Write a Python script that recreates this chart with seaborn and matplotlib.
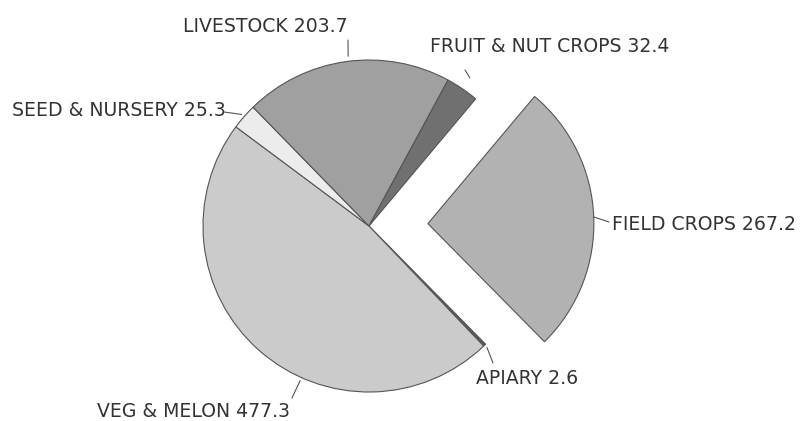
import numpy as np
import matplotlib
matplotlib.use("Agg")
import matplotlib.pyplot as plt
import seaborn as sns

sns.set_theme(style="white")
plt.rcParams['font.family'] = ['DejaVu Sans']

categories = ["FIELD CROPS", "APIARY", "VEG & MELON", "SEED & NURSERY", "LIVESTOCK", "FRUIT & NUT CROPS"]
values = [267.2, 2.6, 477.3, 25.3, 203.7, 32.4]
colors = ["#b2b2b2", "#5a5a5a", "#cbcbcb", "#ececec", "#a0a0a0", "#707070"]
explode = [0.355, 0, 0, 0, 0, 0]

W, H = 800, 421
cx, cy, R = 369, 226, 166  # pixel layout of pie

fig = plt.figure(figsize=(W / 100, H / 100), dpi=100)
ax = fig.add_axes([0, 0, 1, 1])
wedges, _ = ax.pie(values, colors=colors, explode=explode, startangle=50,
                   counterclock=False, radius=1,
                   wedgeprops=dict(edgecolor="#555555", linewidth=0.8))
ax.set_xlim(-cx / R, (W - cx) / R)
ax.set_ylim(-(H - cy) / R, cy / R)
ax.set_aspect("auto")
ax.axis("off")

def px(x, y):
    return ((x - cx) / R, (cy - y) / R)

# label layout: (text x px, text y px, ha, leader anchor angle override or None, leader radius factor)
layout = {
    "FIELD CROPS": (612, 224, "left", None, 1.0),
    "APIARY": (476, 379, "left", None, 1.02),
    "VEG & MELON": (97, 411, "left", -114, 1.02),
    "SEED & NURSERY": (12, 110, "left", None, 1.02),
    "LIVESTOCK": (183, 27, "left", 97, 1.03),
    "FRUIT & NUT CROPS": (430, 46, "left", None, 1.08),
}
leader_end = {
    "FIELD CROPS": (609, 222),
    "APIARY": (493, 363),
    "VEG & MELON": (292, 398),
    "SEED & NURSERY": (224, 112),
    "LIVESTOCK": (348, 40),
    "FRUIT & NUT CROPS": (465, 70),
}

for w, cat, val in zip(wedges, categories, values):
    tx, ty, ha, ang, rf = layout[cat]
    c = w.center
    a = (w.theta1 + w.theta2) / 2 if ang is None else ang
    sx = c[0] + rf * np.cos(np.deg2rad(a))
    sy = c[1] + rf * np.sin(np.deg2rad(a))
    ex, ey = px(*leader_end[cat])
    ax.plot([sx, ex], [sy, ey], color="#555555", lw=0.8)
    ax.text(*px(tx, ty), f"{cat} {val}", ha=ha, va="center",
            fontsize=13.6, color="#333333")

fig.savefig("out.png", dpi=100)
